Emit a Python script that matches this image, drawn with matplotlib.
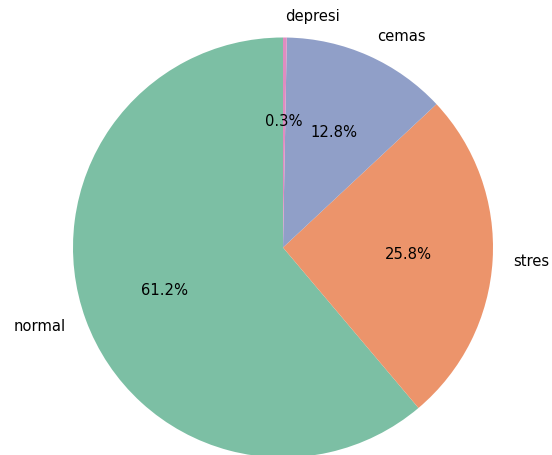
import matplotlib
matplotlib.use("Agg")
import matplotlib.pyplot as plt

# Counts per class (percentages shown via autopct)
labels = ["normal", "stres", "cemas", "depresi"]
counts = [211, 89, 44, 1]
colors = ["#7cbfa4", "#ec946b", "#909fc8", "#e08cc0"]

fig = plt.figure(figsize=(5.52, 4.55), dpi=100)
ax = fig.add_axes([0, 0, 1, 1])

ax.pie(
    counts,
    labels=labels,
    colors=colors,
    autopct="%1.1f%%",
    startangle=90,
    textprops={"fontsize": 10.6},
)

# radius 1 == 210 px, centre at (283, 247.5) px
cx, cy, r = 283, 247.5, 210
ax.set_xlim(-cx / r, (552 - cx) / r)
ax.set_ylim(-(455 - cy) / r, cy / r)
ax.set_aspect("auto")
ax.axis("off")

fig.savefig("out.png", dpi=100)
